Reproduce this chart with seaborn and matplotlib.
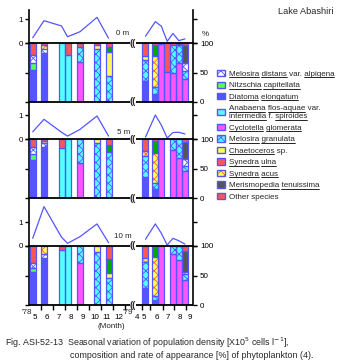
import matplotlib
matplotlib.use("Agg")
import matplotlib.pyplot as plt
from matplotlib.patches import Patch
from matplotlib.lines import Line2D
from matplotlib.legend_handler import HandlerTuple
from matplotlib.transforms import blended_transform_factory
import numpy as np
import pandas as pd
import seaborn as sns

# ------------------------------------------------------------------ data
month_labels = ["5", "6", "7", "8", "9", "10", "11", "12", "4", "5", "6", "7", "8", "9"]
month_pos = [5, 6, 7, 8, 9, 10, 11, 12, 13.5, 14.08, 15.17, 16.08, 17.08, 17.92]
month_bounds = [5.5, 6.5, 7.5, 8.5, 9.5, 10.5, 11.5, 12.5, 13.89, 14.58, 15.67, 16.58, 17.58]

dates_78 = [4.81, 5.75, 7.21, 7.71, 8.75, 10.17, 11.13]
dates_79 = [14.21, 15.03, 15.53, 16.02, 16.5, 16.98, 17.5]
dates_79_sub = [14.21, 15.03, 15.53, 16.5, 16.98, 17.5]

depths = ["0 m", "5 m", "10 m"]

dens_0m_78 = [0.22, 0.93, 0.71, 0.26, 0.47, 1.07, 0.20]
dens_0m_79 = [0.28, 0.89, 0.70, 0.07, 0.40, 0.10, 0.17]
dens_5m_78 = [0.30, 0.82, 0.28, 0.12, 0.40, 0.96, 0.12]
dens_5m_79 = [0.08, 1.00, 0.58, 0.04, 0.27, 0.28, 0.21]
dens_10m_78 = [0.32, 1.64, 0.37, 0.11, 0.39, 0.92, 0.14]
dens_10m_79 = [0.28, 0.92, 0.53, 0.04, 0.32, 0.22, 0.08]

# composition (% of cells), listed from the top of each bar downwards
comp_0m_78 = [
    [("OT", 20), ("MD", 14), ("NC", 11), ("DE", 55)],
    [("OT", 3), ("SA", 8), ("MD", 6), ("DE", 83)],
    [("AF", 100)],
    [("OT", 20), ("AF", 80)],
    [("OT", 6), ("MG", 27), ("CG", 67)],
    [("OT", 3), ("CS", 8), ("MG", 89)],
    [("OT", 6), ("NG", 9), ("CS", 41), ("MG", 44)],
]
comp_0m_79 = [
    [("OT", 22), ("SA", 7), ("MG", 36), ("DE", 35)],
    [("OT", 3), ("NG", 19), ("SA", 53), ("MG", 12), ("DE", 13)],
    [("OT", 2), ("CG", 98)],
    [("OT", 49), ("CG", 51)],
    [("OT", 3), ("MG", 48), ("CG", 49)],
    [("MT", 3), ("MG", 31), ("CG", 66)],
    [("OT", 3), ("MT", 31), ("MD", 13), ("MG", 14), ("CG", 39)],
]
comp_5m_78 = [
    [("OT", 14), ("MD", 12), ("NC", 10), ("DE", 64)],
    [("OT", 3), ("SA", 3), ("MD", 8), ("DE", 86)],
    [("OT", 16), ("AF", 84)],
    [("AF", 100)],
    [("MG", 40), ("CG", 60)],
    [("CS", 6), ("MG", 94)],
    [("OT", 11), ("NG", 11), ("MG", 78)],
]
comp_5m_79 = [
    [("OT", 20), ("SA", 8), ("MG", 37), ("DE", 35)],
    [("OT", 3), ("NG", 20), ("SA", 51), ("MG", 11), ("DE", 15)],
    [("CG", 100)],
    [("MG", 18), ("CG", 82)],
    [("MG", 32), ("CG", 68)],
    [("OT", 5), ("MT", 29), ("MD", 11), ("MG", 9), ("CG", 46)],
]
comp_10m_78 = [
    [("OT", 29), ("MD", 8), ("NC", 7), ("DE", 56)],
    [("SA", 13), ("MD", 7), ("DE", 80)],
    [("OT", 6), ("AF", 94)],
    [("AF", 100)],
    [("MG", 28), ("CG", 72)],
    [("CS", 11), ("MG", 89)],
    [("OT", 22), ("NG", 24), ("CS", 9), ("MG", 45)],
]
comp_10m_79 = [
    [("OT", 21), ("SA", 6), ("MG", 45), ("DE", 28)],
    [("OT", 2), ("NG", 17), ("SA", 65), ("MG", 7), ("DE", 9)],
    [("CG", 100)],
    [("MG", 14), ("CG", 86)],
    [("MG", 23), ("CG", 77)],
    [("OT", 8), ("MT", 36), ("MD", 4), ("MG", 9), ("CG", 43)],
]

legend_codes = ["MD", "NC", "DE", "AF", "CG", "MG", "CS", "SU", "SA", "MT", "OT"]
legend_labels = [
    "Melosira distans var. alpigena",
    "Nitzschia capitellata",
    "Diatoma elongatum",
    "Anabaena flos-aquae var.\nintermedia f. spiroides",
    "Cyclotella glomerata",
    "Melosira granulata",
    "Chaetoceros sp.",
    "Synedra ulna",
    "Synedra acus",
    "Merismopedia tenuissima",
    "Other species",
]
not_underlined = {"var.", "f.", "sp.", "Other", "species"}

# ------------------------------------------------------------------ styles
BLUE = "#5555ff"
styles = {
    "MD": dict(face="white", hatch="xxxx", hc=BLUE),
    "NC": dict(face="#55ff55"),
    "DE": dict(face=BLUE),
    "AF": dict(face="#55ffff"),
    "CG": dict(face="#ff55ff"),
    "MG": dict(face="#55ffff", hatch="xxxx", hc=BLUE),
    "CS": dict(face="#ffff55"),
    "SU": dict(face="#ff5555"),
    "SA": dict(face="#ffff55", hatch="xxxx", hc="#ff5555"),
    "MT": dict(face="#555555"),
    "OT": dict(face="#ff5555"),
    "NG": dict(face="#00aa00"),
}

sns.set_theme(style="white")
plt.rcParams["font.family"] = ["Liberation Sans", "DejaVu Sans"]
plt.rcParams["hatch.linewidth"] = 0.6
plt.rcParams["axes.linewidth"] = 1.0
FS = 5.8

W, H = 341, 362
fig = plt.figure(figsize=(W / 100, H / 100), dpi=100)
fig.patch.set_facecolor("white")

X0, X1 = 29, 193
XMIN, XMAX = 4.5, 18.17
GAP_L, GAP_R, GAP_C = 12.92, 13.42, 13.17
PX_PER_UNIT = 24.0
BAR_W = 0.5


def add_ax(top, bottom):
    return fig.add_axes([X0 / W, 1 - bottom / H, (X1 - X0) / W, (bottom - top) / H])


def broken_hline(ax, y):
    ax.hlines([y, y], [XMIN, GAP_R], [GAP_L, XMAX], color="black", lw=1.3, clip_on=False, zorder=5)
    ax.text(GAP_C, y, "((", ha="center", va="center", fontsize=6.5, fontweight="bold", clip_on=False, zorder=6)


def draw_bars(ax, xs, comps):
    for x, comp in zip(xs, comps):
        top = 100
        for code, p in comp:
            st = styles[code]
            ax.bar(x, p, bottom=top - p, width=BAR_W, color=st["face"], hatch=st.get("hatch"),
                   edgecolor=st.get("hc", "none"), linewidth=0, zorder=2)
            ax.bar(x, p, bottom=top - p, width=BAR_W, fill=False, edgecolor=BLUE, linewidth=0.9, zorder=3)
            top -= p


panels = [
    (10, 43, 102, dens_0m_78, dens_0m_79, comp_0m_78, comp_0m_79, dates_79, (12.33, 0.38)),
    (102, 139, 198, dens_5m_78, dens_5m_79, comp_5m_78, comp_5m_79, dates_79_sub, (12.4, 0.26)),
    (198, 246, 305, dens_10m_78, dens_10m_79, comp_10m_78, comp_10m_79, dates_79_sub, (12.3, 0.39)),
]

for i, (top, zero, bottom, d78, d79, c78, c79, bx79, lblpos) in enumerate(panels):
    axl = add_ax(top, zero)
    axb = add_ax(zero, bottom)
    for ax in (axl, axb):
        ax.set_xlim(XMIN, XMAX)
        ax.set_facecolor("none")
        for s in ("top", "bottom"):
            ax.spines[s].set_visible(False)
        for s in ("left", "right"):
            ax.spines[s].set_color("black")
            ax.spines[s].set_linewidth(1.2)
    # density lines
    df78 = pd.DataFrame({"date": dates_78, "density": d78})
    df79 = pd.DataFrame({"date": dates_79, "density": d79})
    for df in (df78, df79):
        sns.lineplot(data=df, x="date", y="density", ax=axl, color=BLUE, linewidth=0.9,
                     estimator=None, sort=False, clip_on=False)
    axl.set_ylim(0, (zero - top) / PX_PER_UNIT)
    axl.set_yticks([0, 1])
    axl.set_yticklabels(["0", "1"])
    axl.tick_params(axis="y", left=True, right=True, labelleft=True, labelright=False,
                    direction="out", length=3, width=1, pad=1.5, labelsize=FS, colors="black")
    axl.set_xticks([])
    axl.set_xlabel("")
    axl.set_ylabel("")
    axl.text(lblpos[0], lblpos[1], depths[i], ha="center", va="center", fontsize=FS)

    # composition bars
    draw_bars(axb, dates_78, c78)
    draw_bars(axb, bx79, c79)
    axb.set_ylim(0, 100)
    axb.set_yticks([0, 50, 100])
    axb.set_yticklabels(["0", "50", "100"])
    axb.tick_params(axis="y", left=True, right=True, labelleft=False, labelright=True,
                    direction="out", length=3, width=1, pad=2, labelsize=FS, colors="black")
    broken_hline(axb, 100)
    broken_hline(axb, 0)

    if i < 2:
        axb.set_xticks([])
    else:
        axb.set_xticks(month_pos)
        axb.set_xticklabels(month_labels)
        axb.set_xticks(month_bounds, minor=True)
        axb.tick_params(axis="x", which="major", bottom=True, length=0, pad=6.5, labelsize=FS, colors="black")
        axb.tick_params(axis="x", which="minor", bottom=True, length=3.5, width=1, direction="out", colors="black")
        tr = blended_transform_factory(axb.transData, axb.transAxes)
        axb.text(4.3, -0.12, "'78", transform=tr, ha="center", va="center", fontsize=FS)
        axb.text(12.72, -0.12, "'79", transform=tr, ha="center", va="center", fontsize=FS)
        axb.text(11.33, -0.37, "(Month)", transform=tr, ha="center", va="center", fontsize=FS)

# legend
handles = []
for code in legend_codes:
    st = styles[code]
    fillp = Patch(facecolor=st["face"], hatch=st.get("hatch"), edgecolor=st.get("hc", "none"), linewidth=0)
    edgep = Patch(fill=False, edgecolor=BLUE, linewidth=1.0)
    handles.append((fillp, edgep))
leg = fig.legend(handles, legend_labels, handler_map={tuple: HandlerTuple(ndivide=1)},
                 loc="upper left", bbox_to_anchor=(217 / W, 1 - 70 / H), frameon=False,
                 fontsize=FS, borderpad=0, borderaxespad=0, handlelength=0.95, handleheight=0.8,
                 handletextpad=0.5, labelspacing=0.45)
for t in leg.get_texts():
    t.set_linespacing(1.35)

fig.text(333 / W, 1 - 12 / H, "Lake Abashiri", ha="right", va="center", fontsize=6.6)
fig.text(205 / W, 1 - 34 / H, "%", ha="center", va="center", fontsize=FS)
fig.text(5 / W, 1 - 343 / H,
         "Fig. ASI-52-13  Seasonal variation of population density [X10$^5$ cells l$^{-1}$],",
         ha="left", va="center", fontsize=6.4)
fig.text(70 / W, 1 - 356 / H, "composition and rate of appearance [%] of phytoplankton (4).",
         ha="left", va="center", fontsize=6.4)

# underline the scientific names in the legend
fig.canvas.draw()
renderer = fig.canvas.get_renderer()
inv = fig.transFigure.inverted()
for t in leg.get_texts():
    s = t.get_text()
    lines = s.split("\n")
    bb = t.get_window_extent(renderer)
    fp = t.get_fontproperties()
    lh = bb.height / len(lines)
    for li, line in enumerate(lines):
        ybase = bb.y1 - (li + 1) * lh + 0.6
        pos = 0
        for word in line.split(" "):
            start = line.index(word, pos)
            pos = start + len(word)
            if word in not_underlined:
                continue
            wpre = renderer.get_text_width_height_descent(line[:start], fp, ismath=False)[0] if start else 0
            wword = renderer.get_text_width_height_descent(word, fp, ismath=False)[0]
            xa = bb.x0 + wpre
            xb = xa + wword
            (fx0, fy0), (fx1, _) = inv.transform([(xa, ybase), (xb, ybase)])
            fig.add_artist(Line2D([fx0, fx1], [fy0, fy0], transform=fig.transFigure,
                                  color="black", linewidth=0.6))

fig.savefig("out.png", dpi=100, facecolor="white")
